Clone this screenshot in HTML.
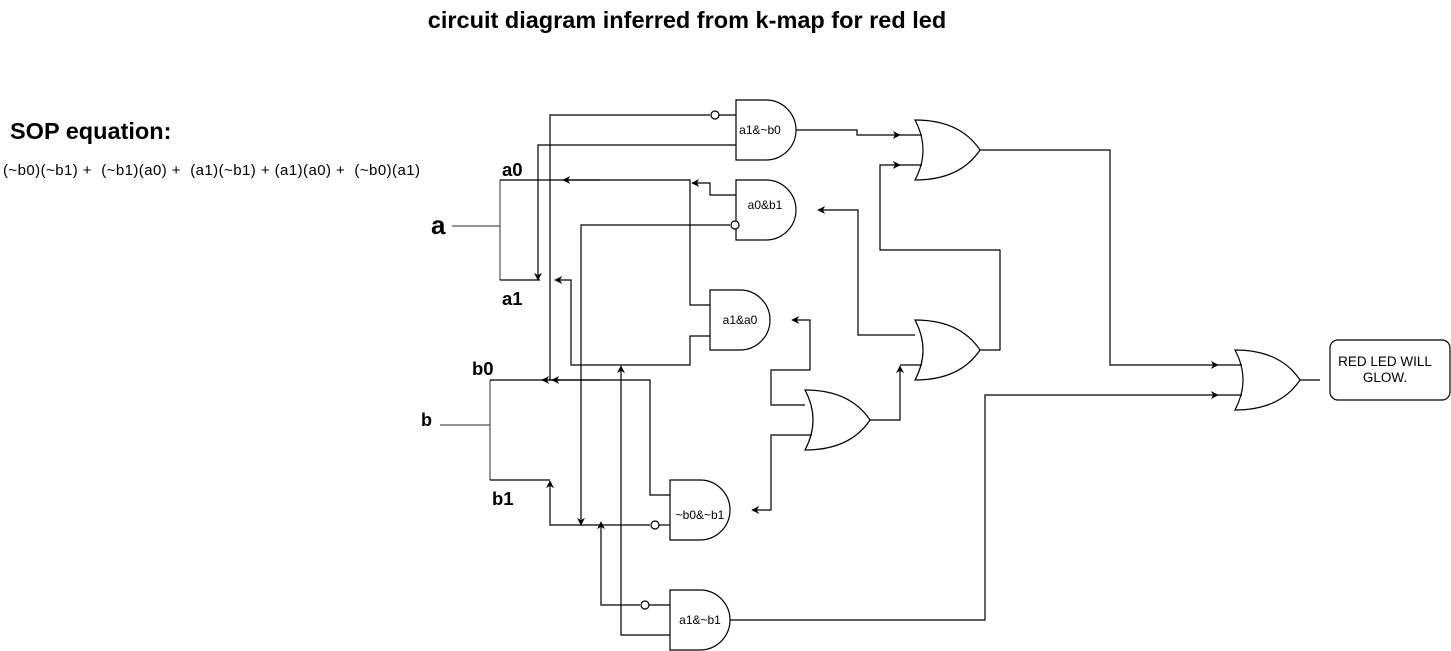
<!DOCTYPE html>
<html><head><meta charset="utf-8"><style>
body{margin:0;background:#fff;width:1451px;height:651px;overflow:hidden}
svg{display:block}
text{font-family:"Liberation Sans",Arial,sans-serif;white-space:pre}
</style></head><body>
<svg width="1451" height="651" viewBox="0 0 1451 651" xmlns="http://www.w3.org/2000/svg" xml:space="preserve">
<defs>
<marker id="ar" viewBox="0 0 10 10" refX="9" refY="5" markerWidth="8" markerHeight="8" orient="auto" markerUnits="userSpaceOnUse">
<path d="M0,0 L10,5 L0,10 L3,5 Z" fill="#000"/>
</marker>
</defs>
<rect width="1451" height="651" fill="#fff"/>
<text x="687" y="28" font-size="23.5" font-weight="bold" text-anchor="middle">circuit diagram inferred from k-map for red led</text>
<text x="10" y="139" font-size="23.5" font-weight="bold">SOP equation:</text>
<text x="3" y="175" font-size="15" textLength="417" lengthAdjust="spacing">(~b0)(~b1) +  (~b1)(a0) +  (a1)(~b1) + (a1)(a0) +  (~b0)(a1)</text>
<text x="431" y="234" font-size="26" font-weight="bold">a</text>
<text x="421" y="426" font-size="18" font-weight="bold">b</text>
<text x="502" y="176" font-size="18.5" font-weight="bold">a0</text>
<text x="502" y="305" font-size="18.5" font-weight="bold">a1</text>
<text x="472" y="375" font-size="18.5" font-weight="bold">b0</text>
<text x="492" y="505" font-size="18.5" font-weight="bold">b1</text>

<g fill="none" stroke="#000" stroke-width="1.2">
<path d="M452,226 H500 M500,180 V280 M440,425 H490 M490,380 V480" stroke="#555"/>
<path d="M500,180 H690 V305 H710"/>
<path d="M600,180 H563" marker-end="url(#ar)"/>
<path d="M500,280 H540"/>
<path d="M736,195 H710 V183 H692" marker-end="url(#ar)"/>
<path d="M710,336 H690 V365 H571 V280 H555" marker-end="url(#ar)"/>
<path d="M736,145 H538 V280" marker-end="url(#ar)"/>
<path d="M710,115 H550 V380" />
<path d="M490,380 H650 V495 H670"/>
<path d="M560,380 H542" marker-end="url(#ar)"/>
<path d="M600,380 H552" marker-end="url(#ar)"/>
<path d="M730,225 H581 V525" marker-end="url(#ar)"/>
<path d="M490,480 H550"/>
<path d="M650,525 H550 V481" marker-end="url(#ar)"/>
<path d="M640,605 H601 V522" marker-end="url(#ar)"/>
<path d="M670,635 H621 V366" marker-end="url(#ar)"/>
<path d="M796,130 H857 V135 H900" marker-end="url(#ar)"/>
<path d="M900,135 H922 M900,165 H922"/>
<path d="M980,350 H1000 V250 H880 V165 H900" marker-end="url(#ar)"/>
<path d="M915,335 H858 V210 H818" marker-end="url(#ar)"/>
<path d="M805,405 H771 V370 H810 V320 H792" marker-end="url(#ar)"/>
<path d="M812,435 H771 V510 H752" marker-end="url(#ar)"/>
<path d="M870,420 H900 V366" marker-end="url(#ar)"/>
<path d="M900,365 H922"/>
<path d="M980,150 H1110 V365 H1218" marker-end="url(#ar)"/>
<path d="M730,620 H985 V395 H1218" marker-end="url(#ar)"/>
<path d="M1218,365 H1242 M1218,395 H1242 M1300,380 H1320"/>
<path d="M736,100 H766 A30,30 0 0 1 766,160 H736 Z"/>
<path d="M736,180 H766 A30,30 0 0 1 766,240 H736 Z"/>
<path d="M710,290 H740 A30,30 0 0 1 740,350 H710 Z"/>
<path d="M670,480 H700 A30,30 0 0 1 700,540 H670 Z"/>
<path d="M670,590 H700 A30,30 0 0 1 700,650 H670 Z"/>
<circle cx="715" cy="115" r="4" fill="#fff"/>
<path d="M719,115 H736"/>
<circle cx="735" cy="225" r="4" fill="#fff"/>
<circle cx="655" cy="525" r="4" fill="#fff"/>
<path d="M659,525 H670"/>
<circle cx="645" cy="605" r="4" fill="#fff"/>
<path d="M649,605 H670"/>
<path d="M915,120 Q931,150 915,180 Q960,180 980,150 Q960,120 915,120 Z"/>
<path d="M915,320 Q931,350 915,380 Q960,380 980,350 Q960,320 915,320 Z"/>
<path d="M805,390 Q821,420 805,450 Q850,450 870,420 Q850,390 805,390 Z"/>
<path d="M1235,350 Q1251,380 1235,410 Q1280,410 1300,380 Q1280,350 1235,350 Z"/>
<rect x="1330" y="340" width="120" height="60" rx="8"/>
</g>
<g font-size="12" text-anchor="middle">
<text x="760" y="134">a1&amp;~b0</text>
<text x="765" y="209">a0&amp;b1</text>
<text x="740" y="324">a1&amp;a0</text>
<text x="700" y="519">~b0&amp;~b1</text>
<text x="700" y="624">a1&amp;~b1</text>
</g>
<g font-size="13.5" text-anchor="middle">
<text x="1385" y="366">RED LED WILL</text>
<text x="1385" y="382">GLOW.</text>
</g>
</svg>
</body></html>
